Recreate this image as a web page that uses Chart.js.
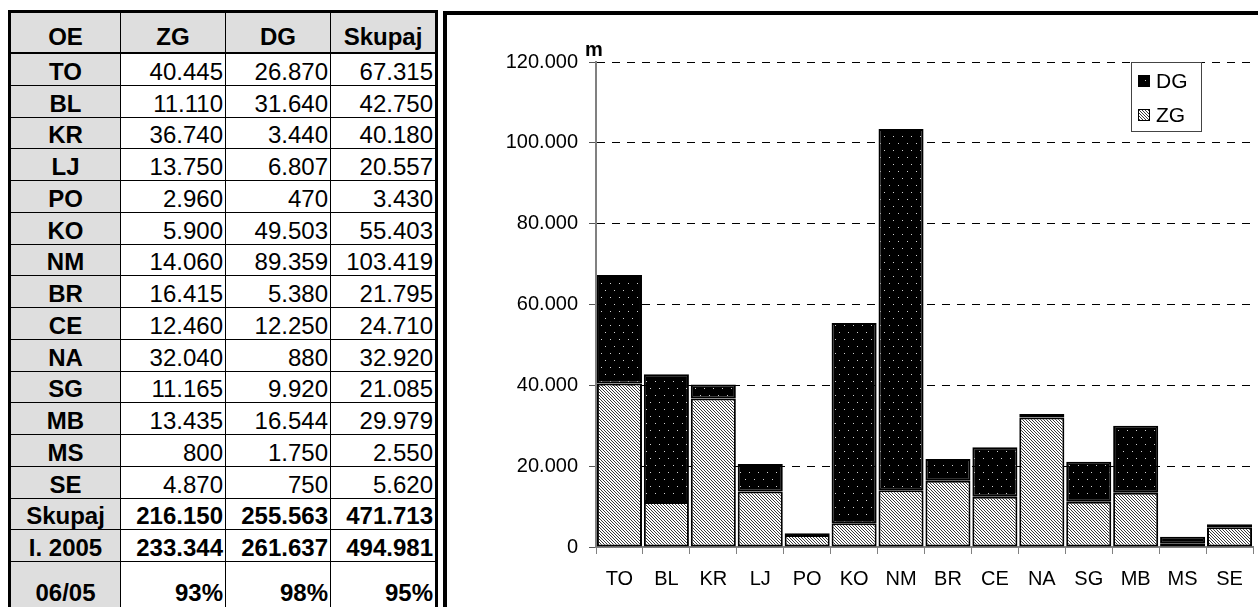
<!DOCTYPE html>
<html>
<head>
<meta charset="utf-8">
<script src="https://cdn.jsdelivr.net/npm/chart.js@4.4.0/dist/chart.umd.min.js"></script>
<style>
html, body { margin: 0; padding: 0; width: 1258px; height: 607px; overflow: hidden; background: #fff; font-family: 'Liberation Sans', Arial, sans-serif; }
#frame { position: absolute; left: 8px; top: 10px; width: 430px; height: 640px; box-sizing: border-box; border: 3px solid #000; }
.cell { position: absolute; box-sizing: border-box; display: flex; align-items: center; font-size: 24px; color: #000; border-right: 1px solid #000; border-bottom: 1px solid #000; white-space: nowrap; overflow: hidden; padding-top: 5px; }
.num { justify-content: flex-end; padding-right: 2px; background: #fff; }
.lab { justify-content: center; font-weight: bold; background: #dedede; }
.bold { font-weight: bold; }
.head { border-bottom: 2px solid #000; padding-top: 9px; }
.last { border-bottom: none; align-items: flex-end; padding-bottom: 2px; }
#chartBox { position: absolute; left: 443px; top: 11px; width: 900px; height: 700px; border-left: 4px solid #000; border-top: 4px solid #000; }
#chart { position: absolute; left: 0; top: 0; }
</style>
</head>
<body>
<div id="frame"></div>
<div id="tbl"></div>
<div id="chartBox"><canvas id="chart" width="811" height="592"></canvas></div>
<script>
// podatki
var categories = ['TO', 'BL', 'KR', 'LJ', 'PO', 'KO', 'NM', 'BR', 'CE', 'NA', 'SG', 'MB', 'MS', 'SE'];
var zgValues = [40445, 11110, 36740, 13750, 2960, 5900, 14060, 16415, 12460, 32040, 11165, 13435, 800, 4870];
var dgValues = [26870, 31640, 3440, 6807, 470, 49503, 89359, 5380, 12250, 880, 9920, 16544, 1750, 750];
var skupajValues = [67315, 42750, 40180, 20557, 3430, 55403, 103419, 21795, 24710, 32920, 21085, 29979, 2550, 5620];
var headers = ['OE', 'ZG', 'DG', 'Skupaj'];
var sumRow = ['Skupaj', 216150, 255563, 471713];
var prevYearRow = ['I. 2005', 233344, 261637, 494981];
var ratioRow = ['06/05', '93%', '98%', '95%'];
var yMax = 120000;
var yStep = 20000;

function fmt(n) {
    if (typeof n !== 'number') return n;
    return String(n).replace(/\B(?=(\d{3})+(?!\d))/g, '.');
}

// tabela
var tbl = document.getElementById('tbl');
var colLeft = [11, 121, 226, 331];
var colWidth = [110, 105, 105, 104];

function addCell(text, col, top, height, cls) {
    var d = document.createElement('div');
    d.className = 'cell ' + cls;
    d.style.left = colLeft[col] + 'px';
    d.style.width = colWidth[col] + 'px';
    d.style.top = top + 'px';
    d.style.height = height + 'px';
    if (col === 3) d.style.borderRight = 'none';
    d.textContent = fmt(text);
    tbl.appendChild(d);
}

headers.forEach(function(h, c) { addCell(h, c, 13, 41, 'lab head'); });

var rows = [];
categories.forEach(function(cat, i) {
    rows.push({ cells: [cat, zgValues[i], dgValues[i], skupajValues[i]], bold: false });
});
rows.push({ cells: sumRow, bold: true });
rows.push({ cells: prevYearRow, bold: true });

var rowH = 31.75;
rows.forEach(function(r, i) {
    var top = 54 + i * rowH;
    r.cells.forEach(function(v, c) {
        addCell(v, c, top, rowH, c === 0 ? 'lab' : ('num' + (r.bold ? ' bold' : '')));
    });
});
var lastTop = 54 + rows.length * rowH;
ratioRow.forEach(function(v, c) {
    addCell(v, c, lastTop, 47, (c === 0 ? 'lab' : 'num bold') + ' last');
});

// vzorci
function makePattern(w, h, bg, fg, pts) {
    var c = document.createElement('canvas');
    c.width = w; c.height = h;
    var g = c.getContext('2d');
    g.fillStyle = bg;
    g.fillRect(0, 0, w, h);
    g.fillStyle = fg;
    pts.forEach(function(p) { g.fillRect(p[0], p[1], 1, 1); });
    return document.getElementById('chart').getContext('2d').createPattern(c, 'repeat');
}
var zgPattern = makePattern(3, 3, '#ffffff', '#3a3a3a', [[0, 0], [1, 1], [2, 2]]);
var dgPattern = makePattern(9, 14, '#000000', '#d0d0d0', [[1, 2], [5, 9]]);

var fontFamily = "'Liberation Sans', Arial, sans-serif";
Chart.defaults.font.family = fontFamily;

var overlay = {
    id: 'overlay',
    afterDraw: function(chart) {
        var ctx = chart.ctx;
        var a = chart.chartArea;
        ctx.save();
        // enota
        ctx.fillStyle = '#000';
        ctx.font = 'bold 20px ' + fontFamily;
        ctx.textAlign = 'center';
        ctx.textBaseline = 'middle';
        ctx.fillText('m', a.left - 2, a.top - 12);
        // legenda
        var bx = a.right - 122, by = a.top, bw = 70, bh = 69;
        ctx.fillStyle = '#fff';
        ctx.fillRect(bx, by, bw, bh);
        ctx.strokeStyle = '#444';
        ctx.lineWidth = 1;
        ctx.strokeRect(bx + 0.5, by + 0.5, bw, bh);
        var items = [
            { label: 'DG', fill: dgPattern, y: by + 19 },
            { label: 'ZG', fill: zgPattern, y: by + 53 }
        ];
        ctx.font = '21px ' + fontFamily;
        ctx.textAlign = 'left';
        items.forEach(function(it) {
            ctx.fillStyle = it.fill;
            ctx.fillRect(bx + 7, it.y - 6, 12, 12);
            ctx.strokeStyle = '#000';
            ctx.strokeRect(bx + 7.5, it.y - 5.5, 11, 11);
            ctx.fillStyle = '#000';
            ctx.fillText(it.label, bx + 25, it.y + 1);
        });
        ctx.restore();
    }
};

var barStyle = { borderColor: '#000', borderWidth: 2, borderSkipped: false, barPercentage: 0.96, categoryPercentage: 1 };

new Chart(document.getElementById('chart'), {
    type: 'bar',
    data: {
        labels: categories,
        datasets: [
            Object.assign({ label: 'ZG', data: zgValues, backgroundColor: zgPattern }, barStyle),
            Object.assign({ label: 'DG', data: dgValues, backgroundColor: dgPattern }, barStyle)
        ]
    },
    options: {
        responsive: false,
        animation: false,
        layout: { padding: { left: 0, right: 5, top: 47, bottom: 0 } },
        plugins: { legend: { display: false }, tooltip: { enabled: false } },
        scales: {
            x: {
                stacked: true,
                grid: { drawOnChartArea: false, drawTicks: true, tickLength: 7, color: '#808080', lineWidth: 1 },
                border: { color: '#808080', width: 2 },
                ticks: { color: '#000', font: { size: 20 }, padding: 13, maxRotation: 0, autoSkip: false },
                afterFit: function(s) { s.height = 60; }
            },
            y: {
                stacked: true,
                min: 0,
                max: yMax,
                ticks: { stepSize: yStep, color: '#000', font: { size: 20 }, padding: 11, callback: function(v) { return fmt(v); } },
                grid: {
                    color: function(c) { return c.tick && c.tick.value === 0 ? 'rgba(0,0,0,0)' : '#000'; },
                    tickColor: '#555',
                    tickLength: 7,
                    lineWidth: 1
                },
                border: { color: '#808080', width: 2, dash: [8, 7] },
                afterFit: function(s) { s.width = 149; }
            }
        }
    },
    plugins: [overlay]
});
</script>
</body>
</html>
